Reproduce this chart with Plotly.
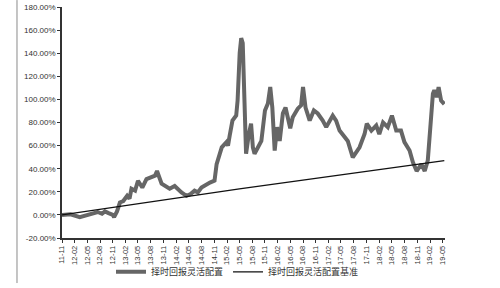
import plotly.graph_objects as go

# 择时回报灵活配置 (strategy cumulative return, %)
strategy_dates = [
    "2011-11-01", "2012-01-01", "2012-03-08", "2012-04-15", "2012-06-01", "2012-07-15",
    "2012-08-15", "2012-09-05", "2012-10-01", "2012-11-01", "2012-11-10", "2012-12-01",
    "2012-12-22", "2013-01-15", "2013-02-12", "2013-03-01", "2013-03-15", "2013-04-10",
    "2013-05-01", "2013-06-01", "2013-07-01", "2013-08-10", "2013-09-01", "2013-09-15",
    "2013-10-18", "2013-12-15", "2014-01-20", "2014-03-10", "2014-04-15", "2014-05-15",
    "2014-06-12", "2014-07-06", "2014-08-01", "2014-10-01", "2014-11-03", "2014-11-18",
    "2014-12-25", "2015-01-28", "2015-02-08", "2015-02-20", "2015-03-12", "2015-04-08",
    "2015-04-18", "2015-05-03", "2015-05-14", "2015-05-25", "2015-06-03", "2015-06-18",
    "2015-07-08", "2015-07-24", "2015-08-06", "2015-08-18", "2015-09-12", "2015-10-06",
    "2015-11-01", "2015-11-22", "2015-12-09", "2015-12-24", "2016-01-10", "2016-01-27",
    "2016-02-15", "2016-03-09", "2016-03-28", "2016-04-15", "2016-05-01", "2016-05-19",
    "2016-06-24", "2016-07-18", "2016-08-01", "2016-08-19", "2016-09-18", "2016-10-18",
    "2016-11-15", "2016-12-21", "2017-01-15", "2017-03-03", "2017-03-27", "2017-04-21",
    "2017-05-27", "2017-06-19", "2017-07-25", "2017-09-12", "2017-10-18", "2017-11-03",
    "2017-12-06", "2018-01-10", "2018-02-01", "2018-02-28", "2018-04-03", "2018-05-03",
    "2018-06-03", "2018-07-07", "2018-08-01", "2018-09-07", "2018-10-01", "2018-10-28",
    "2018-12-01", "2018-12-25", "2019-01-16", "2019-02-03", "2019-02-22", "2019-03-04",
    "2019-03-22", "2019-04-04", "2019-04-22", "2019-05-15",
]
strategy_values = [
    0, 0.5, -2, -0.5, 1, 2.5,
    1, 3, 1.5, 0, -2, 3,
    10.7, 12, 16.5, 14, 22.6, 21,
    29.6, 23.7, 31, 32.4, 34, 38,
    27, 22.6, 25, 19.4, 16.5, 18,
    21, 19.5, 23.7, 28, 29.6, 44,
    58.5, 63, 60, 68.7, 81.7, 86,
    99, 140, 153, 148.7, 116.5, 53,
    70, 79, 58.5, 53, 58.5, 64,
    90.4, 96.5, 110.7, 93, 55.7, 76,
    64, 88, 93, 84.6, 75, 84.6,
    92, 94.8, 110.7, 93, 81.7, 90.4,
    87.8, 81.7, 76, 86, 81.7, 73,
    67, 64, 49.8, 58.5, 70, 79,
    73, 77.4, 70, 80, 76, 86,
    73, 73, 63, 55.7, 45.5, 38,
    44, 38, 47, 76, 105, 108,
    102, 110.7, 99, 96,
]

# 择时回报灵活配置基准 (benchmark, %)
benchmark_dates = ["2011-11-01", "2013-02-01", "2015-05-01", "2019-05-15"]
benchmark_values = [0, 8, 22.5, 47]

y_tick_values = [-20, 0, 20, 40, 60, 80, 100, 120, 140, 160, 180]
y_tick_labels = ["-20.00%", "0.00%", "20.00%", "40.00%", "60.00%", "80.00%",
                 "100.00%", "120.00%", "140.00%", "160.00%", "180.00%"]

fig = go.Figure()
fig.add_trace(go.Scatter(
    x=strategy_dates, y=strategy_values, mode="lines",
    name="择时回报灵活配置",
    line=dict(color="#666666", width=4),
))
fig.add_trace(go.Scatter(
    x=benchmark_dates, y=benchmark_values, mode="lines",
    name="择时回报灵活配置基准",
    line=dict(color="#111111", width=1.4),
))

fig.add_shape(type="line", xref="paper", yref="paper",
              x0=-0.1175, x1=-0.1175, y0=1.03, y1=-0.195,
              line=dict(color="#8a8a8a", width=1))

fig.update_layout(
    width=500, height=288,
    margin=dict(l=62, r=55, t=7, b=50, autoexpand=False),
    paper_bgcolor="white", plot_bgcolor="white",
    font=dict(family="Liberation Sans, Arial", size=8, color="#222"),
    showlegend=True,
    legend=dict(orientation="h", xref="container", yref="container",
                x=0.475, xanchor="center", y=0.056, yanchor="middle",
                bgcolor="rgba(0,0,0,0)",
                font=dict(family="Noto Sans CJK SC", size=9, color="#333"),
                itemwidth=30, tracegroupgap=0),
    xaxis=dict(
        type="date", range=["2011-11-01", "2019-05-20"],
        tick0="2011-11-01", dtick="M3", tickformat="%y-%m",
        tickangle=-90, ticks="outside", ticklen=3, tickcolor="#333",
        showline=True, linecolor="#333", linewidth=1.5,
        showgrid=False, zeroline=False, automargin=False,
        tickfont=dict(size=7.5, color="#333"),
    ),
    yaxis=dict(
        range=[-20, 180], tickvals=y_tick_values, ticktext=y_tick_labels,
        ticks="outside", ticklen=3, tickcolor="#333",
        showline=True, linecolor="#333", linewidth=1.5,
        showgrid=False, zeroline=False, automargin=False,
        tickfont=dict(size=8, color="#333"),
    ),
)

fig.write_html("out.html")
